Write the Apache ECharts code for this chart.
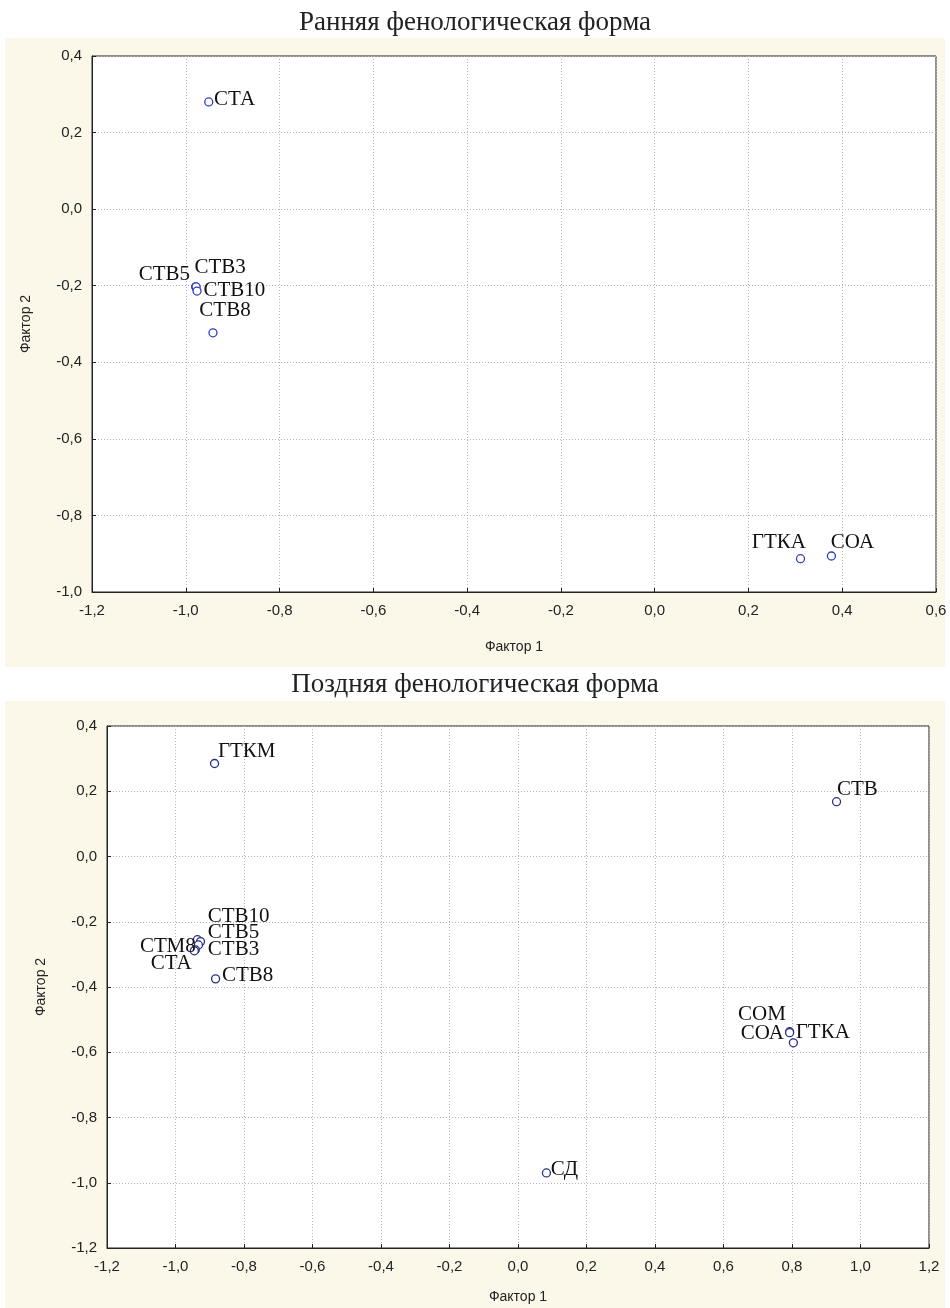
<!DOCTYPE html>
<html>
<head>
<meta charset="utf-8">
<script src="https://cdn.jsdelivr.net/npm/echarts@6/dist/echarts.min.js"></script>
<style>html,body{margin:0;padding:0;background:#fff}#c{width:950px;height:1308px}</style>
</head>
<body>
<div id="c"></div>
<script>
// ---- data ----
const earlyTitle = 'Ранняя фенологическая форма';
const lateTitle = 'Поздняя фенологическая форма';
const xName = 'Фактор 1';
const yName = 'Фактор 2';

const earlyNames = ['СТА', 'СТВ5', 'СТВ3', 'СТВ10', 'СТВ8', 'ГТКА', 'СОА'];
const earlyF1 = [-0.951, -0.979, -0.978, -0.976, -0.942, 0.311, 0.377];
const earlyF2 = [0.280, -0.203, -0.203, -0.214, -0.323, -0.913, -0.906];

const lateNames = ['ГТКМ', 'СТВ', 'СТВ10', 'СТВ5', 'СТВ3', 'СТМ8', 'СТА', 'СТВ8', 'СОМ', 'СОА', 'ГТКА', 'СД'];
const lateF1 = [-0.886, 0.930, -0.936, -0.927, -0.933, -0.942, -0.945, -0.883, 0.793, 0.793, 0.804, 0.083];
const lateF2 = [0.285, 0.168, -0.255, -0.261, -0.271, -0.286, -0.289, -0.375, -0.537, -0.540, -0.571, -0.970];

const earlyXTicks = [-1.2, -1.0, -0.8, -0.6, -0.4, -0.2, 0.0, 0.2, 0.4, 0.6];
const earlyYTicks = [-1.0, -0.8, -0.6, -0.4, -0.2, 0.0, 0.2, 0.4];
const lateXTicks = [-1.2, -1.0, -0.8, -0.6, -0.4, -0.2, 0.0, 0.2, 0.4, 0.6, 0.8, 1.0, 1.2];
const lateYTicks = [-1.2, -1.0, -0.8, -0.6, -0.4, -0.2, 0.0, 0.2, 0.4];

// ---- label placement (style only): anchor offset from the point, in px ----
const earlyLabelStyle = [
  {align: 'left', dx: 6, dy: -2},
  {align: 'right', dx: -5, dy: -12},
  {align: 'left', dx: -1, dy: -19},
  {align: 'left', dx: 7, dy: 0},
  {align: 'left', dx: -13, dy: -22},
  {align: 'left', dx: -48, dy: -16},
  {align: 'left', dx: 0, dy: -13}
];
const lateLabelStyle = [
  {align: 'left', dx: 4, dy: -11},
  {align: 'left', dx: 1, dy: -12},
  {align: 'left', dx: 11, dy: -23},
  {align: 'left', dx: 8, dy: -9},
  {align: 'left', dx: 10, dy: 5},
  {align: 'right', dx: 1, dy: -3},
  {align: 'right', dx: -2, dy: 13},
  {align: 'left', dx: 7, dy: -3},
  {align: 'right', dx: -3, dy: -17},
  {align: 'right', dx: -5, dy: 1},
  {align: 'left', dx: 3, dy: -10},
  {align: 'left', dx: 5, dy: -3}
];

const SYM = 8;
const fmt = v => (Math.abs(v) < 1e-9 ? 0 : v).toFixed(1).replace('.', ',');
const sansFont = '"Liberation Sans Narrow", "Liberation Sans", Arial, sans-serif';
const serifFont = '"Liberation Serif", "DejaVu Serif", serif';

function makePoints(names, xs, ys, styles) {
  return names.map((n, i) => ({
    name: n,
    value: [xs[i], ys[i]],
    label: {
      position: [SYM / 2 + styles[i].dx, SYM / 2 + styles[i].dy],
      align: styles[i].align,
      verticalAlign: 'middle'
    }
  }));
}

function xAxisCfg(idx, ticks, gap) {
  return {
    type: 'value', gridIndex: idx,
    min: ticks[0], max: ticks[ticks.length - 1], interval: 0.2,
    name: xName, nameLocation: 'middle', nameGap: gap,
    nameTextStyle: {fontFamily: sansFont, fontSize: 14, color: '#222'},
    axisLine: {show: true, onZero: false, lineStyle: {color: '#222', width: 1}},
    axisTick: {show: true, inside: true, length: 4, lineStyle: {color: '#222'}},
    axisLabel: {formatter: fmt, fontFamily: sansFont, fontSize: 15, color: '#222', margin: 11},
    splitLine: {show: true, lineStyle: {color: '#b4b4b4', type: [1, 2], width: 1}}
  };
}
function yAxisCfg(idx, ticks, gap) {
  return {
    type: 'value', gridIndex: idx,
    min: ticks[0], max: ticks[ticks.length - 1], interval: 0.2,
    name: yName, nameLocation: 'middle', nameGap: gap, nameRotate: 90,
    nameTextStyle: {fontFamily: sansFont, fontSize: 14, color: '#222'},
    axisLine: {show: true, onZero: false, lineStyle: {color: '#222', width: 1}},
    axisTick: {show: true, inside: true, length: 4, lineStyle: {color: '#222'}},
    axisLabel: {formatter: fmt, fontFamily: sansFont, fontSize: 15, color: '#222', margin: 10},
    splitLine: {show: true, lineStyle: {color: '#b4b4b4', type: [1, 2], width: 1}}
  };
}
function seriesCfg(idx, data, color) {
  return {
    type: 'scatter', xAxisIndex: idx, yAxisIndex: idx,
    symbol: 'circle', symbolSize: SYM,
    itemStyle: {color: '#ffffff', borderColor: color, borderWidth: 1.3, opacity: 1},
    label: {
      show: true,
      formatter: p => p.name,
      fontFamily: serifFont, fontSize: 21, color: '#111'
    },
    emphasis: {disabled: true},
    data: data
  };
}

const chart = echarts.init(document.getElementById('c'), null, {renderer: 'canvas'});
chart.setOption({
  animation: false,
  backgroundColor: '#ffffff',
  graphic: [
    {type: 'rect', z: -10, silent: true, shape: {x: 5, y: 38, width: 940, height: 629}, style: {fill: '#fcf8e9'}},
    {type: 'rect', z: -10, silent: true, shape: {x: 5, y: 701, width: 940, height: 607}, style: {fill: '#fcf8e9'}}
  ],
  title: [
    {text: earlyTitle, left: 'center', top: 4, textStyle: {fontFamily: serifFont, fontSize: 27, fontWeight: 'normal', color: '#222'}},
    {text: lateTitle, left: 'center', top: 666, textStyle: {fontFamily: serifFont, fontSize: 27, fontWeight: 'normal', color: '#222'}}
  ],
  grid: [
    {left: 92, top: 56, width: 844, height: 536, show: true, backgroundColor: '#ffffff', borderColor: '#222', borderWidth: 1},
    {left: 107, top: 726, width: 822, height: 522, show: true, backgroundColor: '#ffffff', borderColor: '#222', borderWidth: 1}
  ],
  xAxis: [xAxisCfg(0, earlyXTicks, 48), xAxisCfg(1, lateXTicks, 42)],
  yAxis: [yAxisCfg(0, earlyYTicks, 59), yAxisCfg(1, lateYTicks, 59)],
  series: [
    seriesCfg(0, makePoints(earlyNames, earlyF1, earlyF2, earlyLabelStyle), '#2f3fc0'),
    seriesCfg(1, makePoints(lateNames, lateF1, lateF2, lateLabelStyle), '#2a2f85')
  ]
});
</script>
</body>
</html>
